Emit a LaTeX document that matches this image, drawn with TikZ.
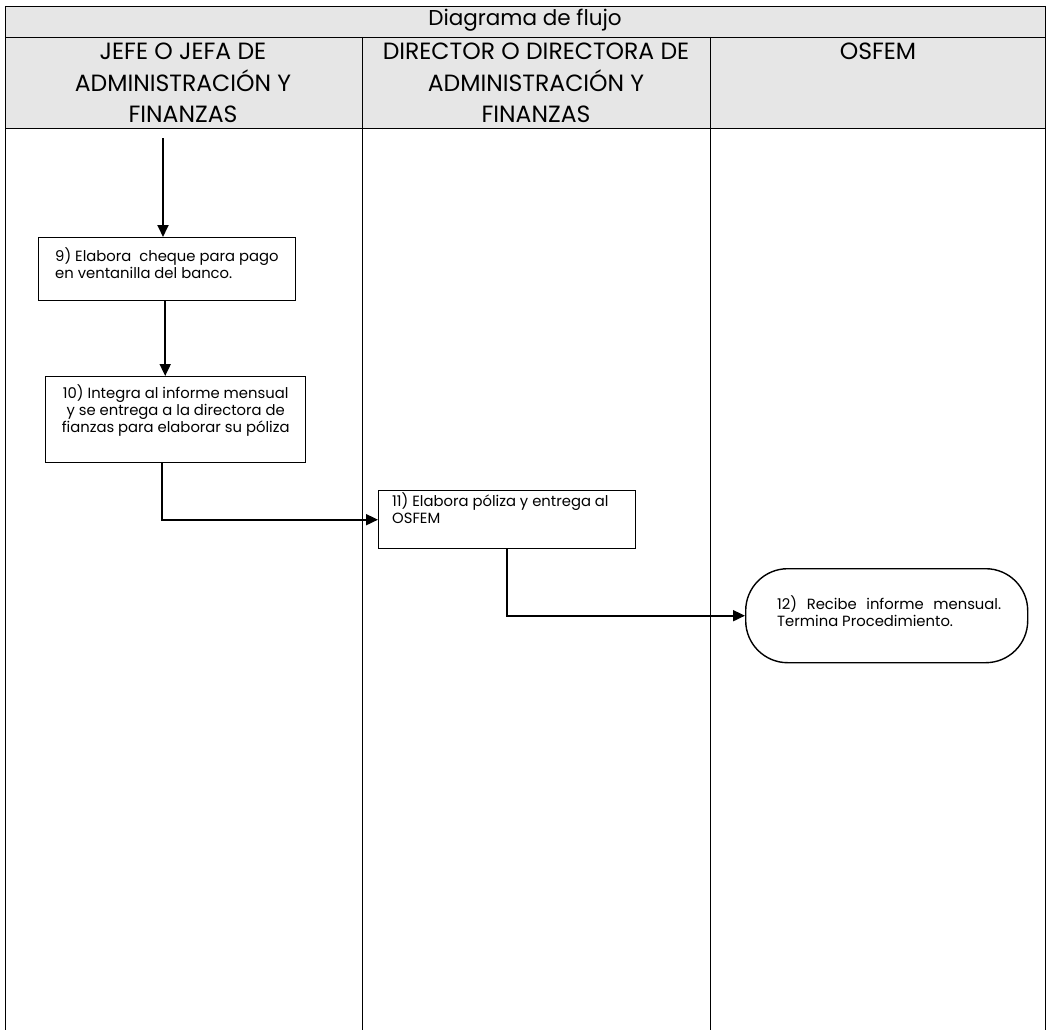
\documentclass[tikz,border=0pt]{standalone}
\usepackage{fontspec}
\setmainfont{Poppins}
\usetikzlibrary{arrows.meta}
\definecolor{hdr}{HTML}{E6E6E6}
\tikzset{
  grid/.style={draw=black, line width=0.9pt},
  box/.style={draw=black, line width=1.4pt, fill=white, inner sep=0pt},
  term/.style={draw=black, line width=1.4pt, fill=white, inner sep=0pt, rounded corners=42pt},
  txt/.style={inner sep=0pt, font=\fontsize{14.8}{17}\selectfont, align=left},
  hd/.style={inner sep=0pt, font=\fontsize{23.5}{31.5}\selectfont, align=center},
  ttl/.style={inner sep=0pt, font=\fontsize{21.5}{26}\selectfont},
  conn/.style={draw=black, line width=1.8pt, -{Triangle[length=12pt,width=11pt]}}
}
\begin{document}
\begin{tikzpicture}[x=1pt,y=-1pt]
\useasboundingbox (0,0) rectangle (1046,1030);
\fill[white] (0,0) rectangle (1046,1030);
% header
\fill[hdr] (5,6) rectangle (1045,128);
\draw[grid] (5,6) -- (1045,6);
\draw[grid] (5,37) -- (1045,37);
\draw[grid] (5,128) -- (1045,128);
\draw[grid] (5,6) -- (5,1030);
\draw[grid] (1045,6) -- (1045,1030);
\draw[grid] (362,37) -- (362,1030);
\draw[grid] (710,37) -- (710,1030);
\node[ttl] (title) at (525,20) {Diagrama de flujo};
\node[hd, anchor=north] (l1) at (183,43) {JEFE O JEFA DE\\ADMINISTRACIÓN Y\\FINANZAS};
\node[hd, anchor=north] (l2) at (536,43) {DIRECTOR O DIRECTORA DE\\ADMINISTRACIÓN Y\\FINANZAS};
\node[hd, anchor=north] (l3) at (878,43) {OSFEM};
% boxes
\coordinate (start) at (163,138);
\node[box, minimum width=257pt, minimum height=63pt, anchor=north west] (b9) at (38,237) {};
\node[txt, anchor=north west] (t9) at ([shift={(17pt,-10pt)}]b9.north west) {9) Elabora\ \ cheque para pago\\en ventanilla del banco.};
\node[box, minimum width=260pt, minimum height=86pt, anchor=north west] (b10) at (45,376) {};
\node[txt, align=center, anchor=north] (t10) at ([yshift=-8pt]b10.north) {10) Integra al informe mensual\\y se entrega a la directora de\\fianzas para elaborar su póliza};
\node[box, minimum width=257pt, minimum height=58pt, anchor=north west] (b11) at (378,490) {};
\node[txt, anchor=north west] (t11) at ([shift={(14pt,-2.5pt)}]b11.north west) {11) Elabora póliza y entrega al\\OSFEM};
\node[term, minimum width=282pt, minimum height=94pt, anchor=north west] (b12) at (745,568) {};
\node[txt, anchor=north west, text width=224pt, align=justify] (t12) at ([shift={(32pt,-27pt)}]b12.north west) {12)\hfill Recibe\hfill informe\hfill mensual.\\Termina Procedimiento.};
% connectors
\draw[conn] (start) -- (start |- b9.north);
\draw[conn] ([xshift=-2pt]b9.south) -- ([xshift=-2pt]b9.south |- b10.north);
\draw[conn] ([xshift=-14pt]b10.south) |- (b11.west);
\draw[conn] (b11.south) |- (b12.west);
\end{tikzpicture}
\end{document}
